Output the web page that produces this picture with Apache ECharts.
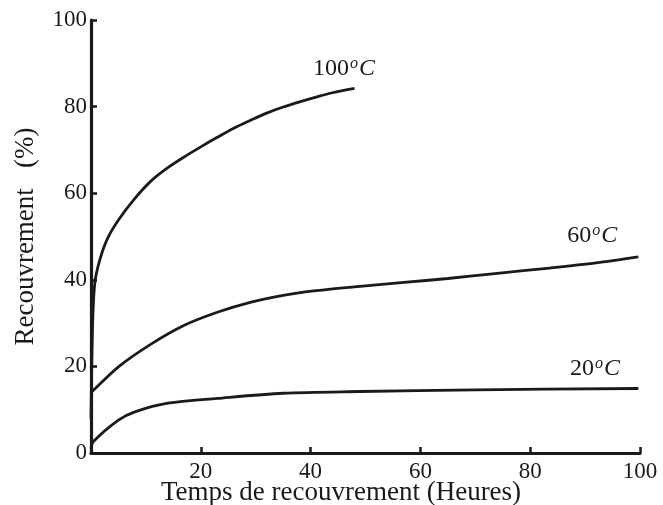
<!DOCTYPE html>
<html>
<head>
<meta charset="utf-8">
<script src="https://cdn.jsdelivr.net/npm/echarts@6/dist/echarts.min.js"></script>
<style>
  html, body { margin: 0; padding: 0; background: #fff; }
  #chart { width: 663px; height: 505px; }
</style>
</head>
<body>
<div id="chart"></div>
<script>
// Recovery (%) versus recovery time (hours) at three temperatures
const curve100 = [[0, 8], [0.3, 30], [0.7, 39.3], [1.6, 44.6], [3, 49.5], [5, 53.8], [8, 58.8], [11, 62.9], [14, 65.9], [17, 68.4], [20, 70.7], [23, 72.9], [26, 75], [29, 76.8], [32, 78.5], [35, 79.9], [38, 81.1], [41, 82.2], [44, 83.2], [48, 84.2]];
const curve60 = [[0, 14], [0.2, 14.2], [5, 19.9], [11, 25.2], [17, 29.5], [23, 32.5], [29, 34.8], [35, 36.4], [41, 37.5], [49, 38.5], [57, 39.4], [65, 40.3], [74, 41.5], [83.5, 42.7], [92, 43.9], [99.7, 45.3]];
const curve20 = [[0, 1], [0.4, 2.6], [5, 7.6], [8, 9.5], [14, 11.5], [23, 12.6], [35, 13.8], [49, 14.2], [70, 14.6], [99.7, 14.9]];

const seriesNames = ['100', '60', '20'];
const labelAnchors = [[46.1, 88.7], [91.3, 50.1], [91.8, 19.4]];

const xTicks = { min: 0, max: 100, interval: 20 };
const yTicks = { min: 0, max: 100, interval: 20 };

const SERIF = '"Liberation Serif", "DejaVu Serif", serif';
const INK = '#1a1a1a';

// Temperature tag (e.g. 100°C) placed above the end of each curve
function tempLabel(name, anchor) {
  return {
    symbol: 'circle',
    symbolSize: 1,
    silent: true,
    itemStyle: { color: 'rgba(0,0,0,0)' },
    data: [{ coord: anchor }],
    label: {
      show: true,
      position: 'inside',
      formatter: '{n|' + name + '}{s|o}{i|C}',
      rich: {
        n: { fontFamily: SERIF, fontSize: 24, color: INK },
        s: { fontFamily: SERIF, fontSize: 16, fontStyle: 'italic', color: INK, padding: [0, 1, 11, 1] },
        i: { fontFamily: SERIF, fontSize: 24, fontStyle: 'italic', color: INK }
      }
    }
  };
}

function line(name, data, anchor) {
  return {
    name: name,
    type: 'line',
    data: data,
    smooth: 0.3,
    symbol: 'none',
    lineStyle: { color: INK, width: 2.8 },
    markPoint: tempLabel(name, anchor),
    z: 3
  };
}

const chart = echarts.init(document.getElementById('chart'), null, { renderer: 'canvas' });
chart.setOption({
  animation: false,
  backgroundColor: '#ffffff',
  grid: { left: 91, right: 23, top: 20, bottom: 52, containLabel: false, outerBoundsMode: 'none' },
  xAxis: {
    type: 'value',
    min: xTicks.min, max: xTicks.max, interval: xTicks.interval,
    name: 'Temps de recouvrement (Heures)',
    nameLocation: 'middle',
    nameGap: 26,
    nameMoveOverlap: false,
    nameTextStyle: { fontFamily: SERIF, fontSize: 27, color: INK, padding: [0, 49, 0, 0] },
    axisLine: { show: true, lineStyle: { color: INK, width: 3.2 } },
    axisTick: { show: true, inside: true, length: 6, lineStyle: { color: INK, width: 2.5 } },
    axisLabel: { fontFamily: SERIF, fontSize: 23, color: INK, margin: 7, showMinLabel: false },
    splitLine: { show: false }
  },
  yAxis: {
    type: 'value',
    min: yTicks.min, max: yTicks.max, interval: yTicks.interval,
    name: 'Recouvrement   (%)',
    nameLocation: 'middle',
    nameGap: 52,
    nameMoveOverlap: false,
    nameTextStyle: { fontFamily: SERIF, fontSize: 27, color: INK },
    axisLine: { show: true, lineStyle: { color: INK, width: 3.2 } },
    axisTick: { show: true, inside: true, length: 6, lineStyle: { color: INK, width: 2.5 } },
    axisLabel: { fontFamily: SERIF, fontSize: 23, color: INK, margin: 4, padding: [5, 0, 0, 0] },
    splitLine: { show: false }
  },
  series: [
    line(seriesNames[0], curve100, labelAnchors[0]),
    line(seriesNames[1], curve60, labelAnchors[1]),
    line(seriesNames[2], curve20, labelAnchors[2])
  ]
});
</script>
</body>
</html>
